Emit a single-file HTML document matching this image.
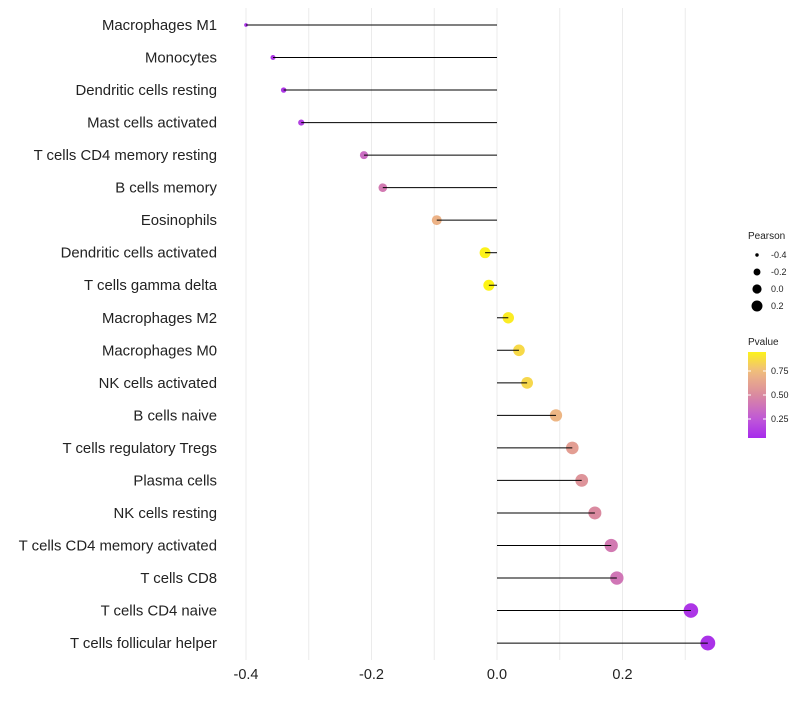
<!DOCTYPE html>
<html><head><meta charset="utf-8"><style>
body{margin:0;background:#fff;font-family:"Liberation Sans",sans-serif}
</style></head><body>
<svg id="chart" width="800" height="700" xmlns="http://www.w3.org/2000/svg"></svg>
<script>
const categories=["Macrophages M1","Monocytes","Dendritic cells resting","Mast cells activated","T cells CD4 memory resting","B cells memory","Eosinophils","Dendritic cells activated","T cells gamma delta","Macrophages M2","Macrophages M0","NK cells activated","B cells naive","T cells regulatory  Tregs ","Plasma cells","NK cells resting","T cells CD4 memory activated","T cells CD8","T cells CD4 naive","T cells follicular helper"];
const pearson=[-0.40,-0.357,-0.34,-0.312,-0.212,-0.182,-0.096,-0.019,-0.013,0.018,0.035,0.048,0.094,0.12,0.135,0.156,0.182,0.191,0.309,0.336];
const pvalues=[0.08,0.1,0.1,0.15,0.35,0.42,0.7,0.95,0.96,0.93,0.86,0.85,0.72,0.6,0.55,0.5,0.42,0.4,0.1,0.08];
const xTicks=[-0.4,-0.2,0.0,0.2];
const xTickLabels=["-0.4","-0.2","0.0","0.2"];
const sizeLegend=[-0.4,-0.2,0.0,0.2];
const colorTicks=[0.25,0.5,0.75];

const NS="http://www.w3.org/2000/svg";
const svg=document.getElementById('chart');
function mk(t,a,p){const e=document.createElementNS(NS,t);for(const k in a)e.setAttribute(k,a[k]);(p||svg).appendChild(e);return e;}
const x=v=>497+v*627.5;
const y=i=>25+i*32.53;
const r=v=>Math.sqrt(Math.max(3,31.3+70*v));
const rl=v=>Math.sqrt(Math.max(1,21+45*v));
const stops=[[0,[160,32,240]],[0.25,[192,88,216]],[0.5,[218,138,160]],[0.75,[240,188,128]],[1,[255,255,0]]];
function col(p){for(let i=1;i<stops.length;i++){if(p<=stops[i][0]){const a=stops[i-1],b=stops[i];const t=(p-a[0])/(b[0]-a[0]);const c=a[1].map((v,j)=>Math.round(v+(b[1][j]-v)*t));return `rgb(${c})`;}}return 'rgb(255,255,0)';}

[-0.4,-0.3,-0.2,-0.1,0,0.1,0.2,0.3].forEach(v=>{
  const g=mk('line',{x1:x(v),x2:x(v),y1:8,y2:660,stroke:'#ebebeb','stroke-width':1});
  
  
});
xTicks.forEach((v,i)=>{
  const t=mk('text',{x:x(v),y:679,'font-size':14.5,'text-anchor':'middle',fill:'#222'});
  t.textContent=xTickLabels[i];
  
  
});
categories.forEach((c,i)=>{
  const t=mk('text',{x:217,y:y(i)+5,'font-size':14.9,'text-anchor':'end',fill:'#222'});
  t.textContent=c;
  
  
  const d=mk('circle',{cx:x(pearson[i]),cy:y(i),r:r(pearson[i]),fill:col(pvalues[i])});
  
  
  const l=mk('line',{x1:x(0),x2:x(pearson[i]),y1:y(i),y2:y(i),stroke:'#000','stroke-width':1});
  
  
});
const lt=mk('text',{x:748,y:239,'font-size':10,fill:'#222'});lt.textContent='Pearson';


sizeLegend.forEach((v,i)=>{
  const cy=255+i*17;
  const c=mk('circle',{cx:757,cy:cy,r:rl(v),fill:'#000'});
  
  
  const t=mk('text',{x:771,y:cy+3,'font-size':9,fill:'#222'});t.textContent=v.toFixed(1);
  
  
});
const pt=mk('text',{x:748,y:345,'font-size':10,fill:'#222'});pt.textContent='Pvalue';


const defs=mk('defs',{});
const grad=mk('linearGradient',{id:'pg',x1:0,y1:1,x2:0,y2:0},defs);
for(let k=0;k<=10;k++){const p=0.05+0.9*k/10;mk('stop',{offset:k/10,'stop-color':col(p)},grad);}
const cb=mk('rect',{x:748,y:352,width:18,height:86,fill:'url(#pg)'});


const py=p=>395-(p-0.5)*96;
colorTicks.forEach(p=>{
  mk('line',{x1:748,x2:751,y1:py(p),y2:py(p),stroke:'#fff'});
  mk('line',{x1:763,x2:766,y1:py(p),y2:py(p),stroke:'#fff'});
  const t=mk('text',{x:771,y:py(p)+3,'font-size':9,fill:'#222'});t.textContent=p.toFixed(2);
  
  
});
</script>
</body></html>
